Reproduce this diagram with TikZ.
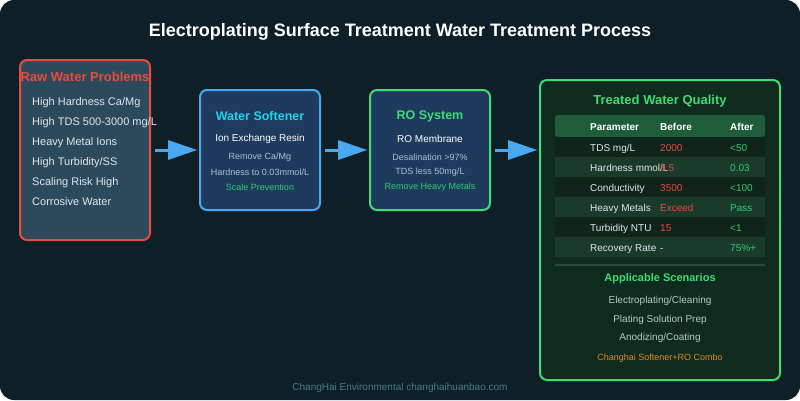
\documentclass[tikz,border=0pt]{standalone}
\usepackage{fontspec}
\setmainfont{Liberation Sans}
\definecolor{bg}{HTML}{0F1F27}
\definecolor{rawfill}{HTML}{2D4A5C}
\definecolor{red1}{HTML}{E74C3C}
\definecolor{blue1}{HTML}{4AA8F0}
\definecolor{boxfill}{HTML}{1E3A5C}
\definecolor{cyan1}{HTML}{22D3EE}
\definecolor{green1}{HTML}{3DDC74}
\definecolor{grn2}{HTML}{2ECC71}
\definecolor{sub}{HTML}{A8C0D8}
\definecolor{rfill}{HTML}{0F2A1E}
\definecolor{hdr}{HTML}{1E5C3A}
\definecolor{rowa}{HTML}{10241C}
\definecolor{rowb}{HTML}{1A3A2A}
\definecolor{sep}{HTML}{2A4A3A}
\definecolor{scen}{HTML}{B8CCC4}
\definecolor{orange1}{HTML}{E08A1E}
\definecolor{foot}{HTML}{4A7A8A}
\definecolor{txt}{HTML}{E0E6EA}
\begin{document}
\begin{tikzpicture}[x=1pt,y=-1pt,
  t/.style={inner sep=0pt,anchor=center},
  li/.style={inner sep=0pt,anchor=base west,text=txt,font=\fontsize{11}{12}\selectfont},
  ar/.style={blue1,line width=3pt},
  s9/.style={t,font=\fontsize{9}{10}\selectfont},
  c10/.style={inner sep=0pt,anchor=base west,font=\fontsize{10}{11}\selectfont},
  h10/.style={c10,text=white,font=\fontsize{10}{11}\selectfont\bfseries}]
\useasboundingbox (0,0) rectangle (800,400);
\fill[bg,rounded corners=14pt] (0,0) rectangle (800,400);
\node[t,text=white,font=\fontsize{18}{20}\selectfont\bfseries] (title) at (400,32) {Electroplating Surface Treatment Water Treatment Process};
% raw
\draw[red1,fill=rawfill,line width=2pt,rounded corners=7pt] (20,60) rectangle (150,240);
\node[t,text=red1,font=\fontsize{13}{14}\selectfont\bfseries] (rawt) at (85,77) {Raw Water Problems};
\node[li] (r1) at (32,105) {High Hardness Ca/Mg};
\node[li] (r2) at (32,125) {High TDS 500-3000 mg/L};
\node[li] (r3) at (32,145) {Heavy Metal Ions};
\node[li] (r4) at (32,165) {High Turbidity/SS};
\node[li] (r5) at (32,185) {Scaling Risk High};
\node[li] (r6) at (32,205) {Corrosive Water};
% arrows
\foreach \a in {155,325,495}{
 \draw[ar] (\a,150) -- (\a+15,150);
 \fill[blue1] (\a+13,140) -- (\a+42,150) -- (\a+13,160) -- cycle;}
% softener
\draw[blue1,fill=boxfill,line width=2pt,rounded corners=7pt] (200,90) rectangle (320,210);
\node[t,text=cyan1,font=\fontsize{12.5}{13}\selectfont\bfseries] (st) at (260,116) {Water Softener};
\node[t,text=white,font=\fontsize{10}{11}\selectfont] (s1) at (260,139) {Ion Exchange Resin};
\node[s9,text=sub] (s2) at (260,157) {Remove Ca/Mg};
\node[s9,text=sub] (s3) at (260,172) {Hardness to 0.03mmol/L};
\node[s9,text=grn2] (s4) at (260,187) {Scale Prevention};
% RO
\draw[green1,fill=boxfill,line width=2pt,rounded corners=7pt] (370,90) rectangle (490,210);
\node[t,text=green1,font=\fontsize{12.5}{13}\selectfont\bfseries] (rt) at (430,116) {RO System};
\node[t,text=white,font=\fontsize{10}{11}\selectfont] (o1) at (430,139) {RO Membrane};
\node[s9,text=sub] (o2) at (430,157) {Desalination >97\%};
\node[s9,text=sub] (o3) at (430,172) {TDS less 50mg/L};
\node[s9,text=grn2] (o4) at (430,187) {Remove Heavy Metals};
% right panel
\draw[green1,fill=rfill,line width=2pt,rounded corners=7pt] (540,80) rectangle (780,380);
\node[t,text=green1,font=\fontsize{13}{14}\selectfont\bfseries] (qt) at (660,101) {Treated Water Quality};
\fill[hdr,rounded corners=3pt] (555,115) rectangle (765,137);
\node[h10] (hp) at (590,130) {Parameter};
\node[h10] (hb) at (660,130) {Before};
\node[h10] (ha) at (730,130) {After};
\foreach \i/\p/\b/\c in {0/TDS mg\slash L/2000/<50,1/Hardness mmol\slash L/8.5/0.03,2/Conductivity/3500/<100,3/Heavy Metals/Exceed/Pass,4/Turbidity NTU/15/<1}{
 \pgfmathsetmacro\yy{137+20*\i}
 \ifodd\i \fill[rowb] (555,\yy) rectangle (765,\yy+20); \else \fill[rowa] (555,\yy) rectangle (765,\yy+20); \fi
 \node[c10,text=txt] at (590,\yy+14) {\p};
 \node[c10,text=red1] at (660,\yy+14) {\b};
 \node[c10,text=grn2] at (730,\yy+14) {\c};}
\fill[rowb] (555,237) rectangle (765,257);
\node[c10,text=txt] (rr) at (590,251) {Recovery Rate};
\node[c10,text=txt] (rb) at (660,251) {-};
\node[c10,text=grn2] (ra) at (730,251) {75\%+};
\draw[sep,line width=1.5pt] (555,265) -- (765,265);
\node[t,text=green1,font=\fontsize{11}{12}\selectfont\bfseries] (at) at (660,279) {Applicable Scenarios};
\node[t,text=scen,font=\fontsize{10}{11}\selectfont] (a1) at (660,301) {Electroplating/Cleaning};
\node[t,text=scen,font=\fontsize{10}{11}\selectfont] (a2) at (660,320) {Plating Solution Prep};
\node[t,text=scen,font=\fontsize{10}{11}\selectfont] (a3) at (660,338) {Anodizing/Coating};
\node[s9,text=orange1] (a4) at (660,358) {Changhai Softener+RO Combo};
\node[t,text=foot,font=\fontsize{10}{11}\selectfont] (ft) at (400,388) {ChangHai Environmental changhaihuanbao.com};
\end{tikzpicture}
\end{document}
